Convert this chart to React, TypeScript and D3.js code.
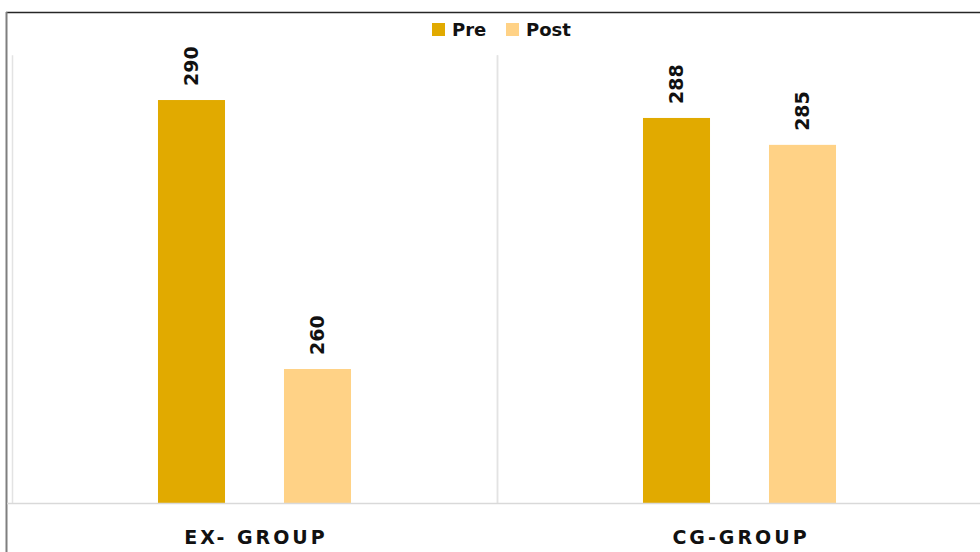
import React from "react";
import * as d3 from "d3";

// Chart data
const groups: string[] = ["EX- GROUP", "CG-GROUP"];
const seriesNames: string[] = ["Pre", "Post"];
const preValues: number[] = [290, 288];
const postValues: number[] = [260, 285];
const seriesColors: string[] = ["#E1AA00", "#FFD286"];

const W = 980;
const H = 552;
const FONT = "'DejaVu Sans', sans-serif";

export default function App() {
  const plot = { left: 12, right: 982, top: 55.2, bottom: 503.5 };

  const x0 = d3.scaleBand<string>().domain(groups).range([plot.left, plot.right]).padding(0);
  const bw = x0.bandwidth();
  const x1 = d3
    .scaleBand<string>()
    .domain(seriesNames)
    .range([bw * 0.301, bw * 0.699])
    .paddingInner(0.468)
    .paddingOuter(0);
  const y = d3.scaleLinear().domain([245, 295]).range([plot.bottom, plot.top]);

  const valuesBySeries = [preValues, postValues];

  return (
    <svg
      width={W}
      height={H}
      style={{ position: "absolute", left: 0, top: 0, background: "#fff" }}
      fontFamily={FONT}
    >
      {/* outer frame */}
      <line x1={6} x2={W} y1={12.5} y2={12.5} stroke="#262626" strokeWidth={1.5} />
      <line x1={6.5} x2={6.5} y1={12} y2={H} stroke="#7f7f7f" strokeWidth={2} />

      {/* group separators */}
      {groups.map((g, i) => (
        <line
          key={"sep" + i}
          x1={x0(g)! + 0.5}
          x2={x0(g)! + 0.5}
          y1={plot.top}
          y2={plot.bottom}
          stroke="#e3e3e3"
          strokeWidth={1.5}
        />
      ))}
      <line
        x1={plot.left + bw + 0.5}
        x2={plot.left + bw + 0.5}
        y1={plot.top}
        y2={plot.bottom}
        stroke="#e3e3e3"
        strokeWidth={1.5}
      />

      {/* bars */}
      {groups.map((g, gi) =>
        seriesNames.map((s, si) => {
          const v = valuesBySeries[si][gi];
          const bx = x0(g)! + x1(s)!;
          const by = y(v);
          return (
            <g key={g + s}>
              <rect
                x={bx}
                y={by}
                width={x1.bandwidth()}
                height={plot.bottom - by}
                fill={seriesColors[si]}
              />
              <text
                transform={`translate(${bx + x1.bandwidth() / 2},${by - 14}) rotate(-90)`}
                dy="0.36em"
                fontSize={19}
                fontWeight="bold"
                fill="#111"
              >
                {v}
              </text>
            </g>
          );
        })
      )}

      {/* baseline */}
      <line x1={7} x2={W} y1={plot.bottom} y2={plot.bottom} stroke="#d9d9d9" strokeWidth={1.5} />

      {/* category labels */}
      {groups.map((g) => (
        <text
          key={"lab" + g}
          x={x0(g)! + bw / 2 + 1.5}
          y={544}
          textAnchor="middle"
          fontSize={19}
          fontWeight="bold"
          letterSpacing={3}
          fill="#111"
        >
          {g}
        </text>
      ))}

      {/* legend */}
      {seriesNames.map((s, i) => {
        const lx = [432, 506][i];
        return (
          <g key={"leg" + s}>
            <rect x={lx} y={23} width={13} height={13} fill={seriesColors[i]} />
            <text x={lx + 20} y={36} fontSize={18} fontWeight="bold" fill="#111">
              {s}
            </text>
          </g>
        );
      })}
    </svg>
  );
}
